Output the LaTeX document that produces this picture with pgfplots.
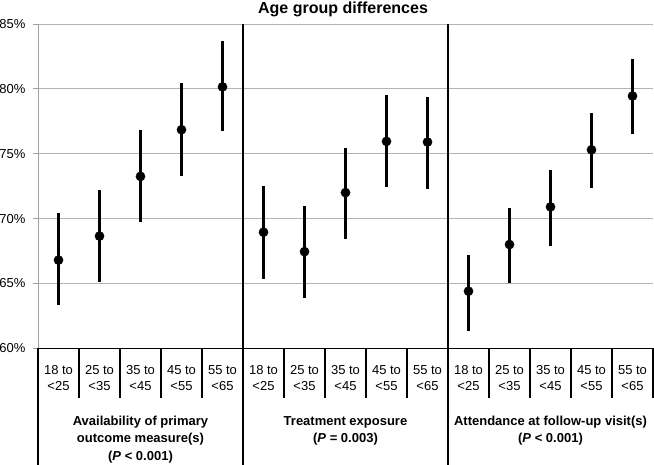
\documentclass[border=0pt]{standalone}
\usepackage{pgfplots}
\pgfplotsset{compat=1.18}
\usepackage{fontspec}
\setmainfont{Liberation Sans}
\definecolor{gridgray}{HTML}{B4B4B4}
\definecolor{axgray}{HTML}{A0A0A0}
\pgfplotstableread{
x y ep em
1 66.80 3.60 3.50
2 68.65 3.55 3.55
3 73.25 3.55 3.55
4 76.85 3.60 3.55
5 80.15 3.55 3.40
6 68.95 3.55 3.60
7 67.45 3.55 3.60
8 72.00 3.45 3.60
9 75.95 3.55 3.50
10 75.90 3.50 3.60
11 64.40 2.80 3.05
12 68.00 2.85 2.95
13 70.90 2.85 3.05
14 75.30 2.85 2.95
15 79.45 2.85 2.95
}\agedata
\begin{document}
\begin{tikzpicture}[x=1bp,y=1bp]
\begin{axis}[
  at={(0,0)}, anchor=south west,
  scale only axis, width=615bp, height=324.3bp,
  xmin=0.5, xmax=15.5, ymin=60, ymax=85,
  axis x line=bottom, axis y line=left,
  axis line style={-},
  x axis line style={black, line width=1.2bp},
  y axis line style={axgray, line width=0.9bp},
  ytick={60,65,...,85},
  yticklabel={\pgfmathprintnumber{\tick}\%},
  /pgf/number format/assume math mode=true,
  ymajorgrids, grid style={draw=gridgray, line width=0.9bp},
  tick align=outside, major tick length=5bp,
  ytick style={draw=axgray, line width=0.9bp},
  xtick style={draw=none},
  xtick={1,...,15},
  xticklabels={{18 to\\<25},{25 to\\<35},{35 to\\<45},{45 to\\<55},{55 to\\<65},
               {18 to\\<25},{25 to\\<35},{35 to\\<45},{45 to\\<55},{55 to\\<65},
               {18 to\\<25},{25 to\\<35},{35 to\\<45},{45 to\\<55},{55 to\\<65}},
  xticklabel style={align=center, yshift=-9bp, font=\fontsize{13bp}{16bp}\selectfont},
  yticklabel style={xshift=-4bp, font=\fontsize{13bp}{16bp}\selectfont},
  title={Age group differences},
  title style={at={(0.5,1)}, anchor=base, yshift=5bp, xshift=-2.5bp,
    font=\bfseries\fontsize{16bp}{19bp}\selectfont},
  clip=false,
]
\addplot[only marks, mark=*, mark size=4.6bp, black,
  error bars/.cd, y dir=both, y explicit,
  error bar style={line width=2.6bp, black}, error mark=none]
  table[x=x, y=y, y error plus=ep, y error minus=em] {\agedata};
\end{axis}
% separators below axis
\foreach \k in {1,2,3,4,6,7,8,9,11,12,13,14,15}{
  \draw[black, line width=1.3bp] (41*\k,0) -- (41*\k,-49.7);
}
\draw[black, line width=1.3bp] (0,0) -- (0,-116.7);
\draw[black, line width=1.8bp] (205,-116.7) -- (205,324.3);
\draw[black, line width=1.8bp] (410,-116.7) -- (410,324.3);
% group labels
\begin{scope}[every node/.style={anchor=base, inner sep=0pt, font=\bfseries\fontsize{13bp}{16bp}\selectfont}]
\node at (102.5,-77) {Availability of primary};
\node at (102.5,-94.5) {outcome measure(s)};
\node at (102.5,-112) {(\textit{P} < 0.001)};
\node at (307.5,-77) {Treatment exposure};
\node at (307.5,-94.5) {(\textit{P} = 0.003)};
\node at (512.5,-77) {Attendance at follow-up visit(s)};
\node at (512.5,-94.5) {(\textit{P} < 0.001)};
\end{scope}
\pgfresetboundingbox
\useasboundingbox (-38,-116.7) rectangle (616,348.3);
\end{tikzpicture}
\end{document}
